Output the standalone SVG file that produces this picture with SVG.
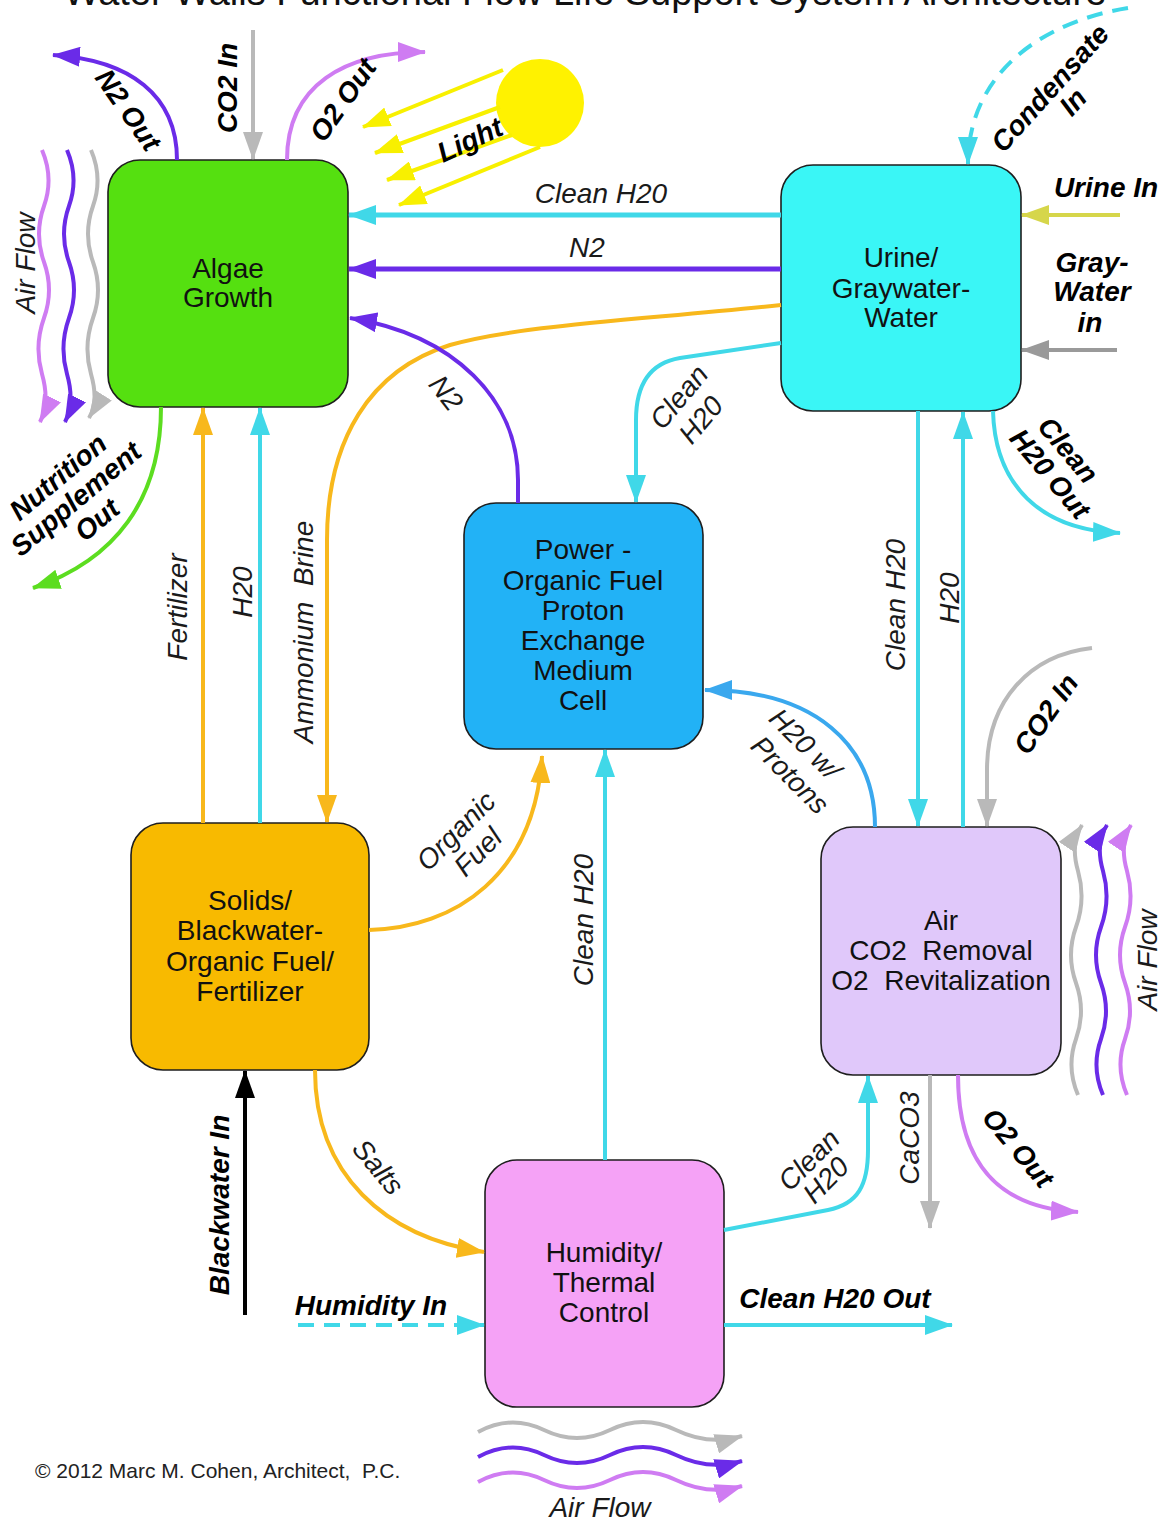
<svg xmlns="http://www.w3.org/2000/svg" width="1169" height="1524" viewBox="0 0 1169 1524">
<style>
text{font-family:"Liberation Sans",Arial,Helvetica,sans-serif}
.title{font-size:38px;fill:#111;text-anchor:middle}
.node rect{stroke:#1e1e1e;stroke-width:1.6}
.nt{font-size:28px;fill:#111;text-anchor:middle}
.lb{font-size:28px;font-style:italic;fill:#1a1a1a;text-anchor:middle}
.bl{font-size:28px;font-style:italic;font-weight:bold;fill:#000;text-anchor:middle}
.c{text-anchor:middle;dominant-baseline:central}
.cn path,.cn line{fill:none;stroke-width:5}
.cy{stroke:#40D8E8}
.pu{stroke:#6A2BE8}
.vi{stroke:#CF7CF2}
.gr{stroke:#B9B9B9}
.or{stroke:#F8B81C}
.gn{stroke:#5CDD20}
.ye{stroke:#F8F000}
.bk{stroke:#000}
.ol{stroke:#D6D64A}
.dg{stroke:#9A9A9A}
.bu{stroke:#3AA8EE}
.w{stroke-width:4 !important}
.dash{stroke-dasharray:16 10}
.copy{font-size:21px;fill:#222}
</style>
<defs>
<marker id="a-cy" viewBox="0 0 28 20" refX="27" refY="10" markerWidth="28" markerHeight="20" markerUnits="userSpaceOnUse" orient="auto"><path d="M0,0 L28,10 L0,20 z" fill="#40D8E8"/></marker>
<marker id="a-pu" viewBox="0 0 28 20" refX="27" refY="10" markerWidth="28" markerHeight="20" markerUnits="userSpaceOnUse" orient="auto"><path d="M0,0 L28,10 L0,20 z" fill="#6A2BE8"/></marker>
<marker id="a-vi" viewBox="0 0 28 20" refX="27" refY="10" markerWidth="28" markerHeight="20" markerUnits="userSpaceOnUse" orient="auto"><path d="M0,0 L28,10 L0,20 z" fill="#CF7CF2"/></marker>
<marker id="a-gr" viewBox="0 0 28 20" refX="27" refY="10" markerWidth="28" markerHeight="20" markerUnits="userSpaceOnUse" orient="auto"><path d="M0,0 L28,10 L0,20 z" fill="#B9B9B9"/></marker>
<marker id="a-or" viewBox="0 0 28 20" refX="27" refY="10" markerWidth="28" markerHeight="20" markerUnits="userSpaceOnUse" orient="auto"><path d="M0,0 L28,10 L0,20 z" fill="#F8B81C"/></marker>
<marker id="a-gn" viewBox="0 0 28 20" refX="27" refY="10" markerWidth="28" markerHeight="20" markerUnits="userSpaceOnUse" orient="auto"><path d="M0,0 L28,10 L0,20 z" fill="#5CDD20"/></marker>
<marker id="a-ye" viewBox="0 0 28 20" refX="27" refY="10" markerWidth="28" markerHeight="20" markerUnits="userSpaceOnUse" orient="auto"><path d="M0,0 L28,10 L0,20 z" fill="#F8F000"/></marker>
<marker id="a-bk" viewBox="0 0 28 20" refX="27" refY="10" markerWidth="28" markerHeight="20" markerUnits="userSpaceOnUse" orient="auto"><path d="M0,0 L28,10 L0,20 z" fill="#000"/></marker>
<marker id="a-ol" viewBox="0 0 28 20" refX="27" refY="10" markerWidth="28" markerHeight="20" markerUnits="userSpaceOnUse" orient="auto"><path d="M0,0 L28,10 L0,20 z" fill="#D6D64A"/></marker>
<marker id="a-dg" viewBox="0 0 28 20" refX="27" refY="10" markerWidth="28" markerHeight="20" markerUnits="userSpaceOnUse" orient="auto"><path d="M0,0 L28,10 L0,20 z" fill="#9A9A9A"/></marker>
<marker id="a-bu" viewBox="0 0 28 20" refX="27" refY="10" markerWidth="28" markerHeight="20" markerUnits="userSpaceOnUse" orient="auto"><path d="M0,0 L28,10 L0,20 z" fill="#3AA8EE"/></marker>
</defs>
<rect x="0" y="0" width="1169" height="1524" fill="#fff"/>
<text class="title" x="585" y="5">Water Walls Functional Flow Life Support System Architecture</text>

<g id="algae" class="node">
<rect x="108" y="160" width="240" height="247" rx="32" fill="#55E010"/>
<text class="nt" x="228" y="278">Algae</text>
<text class="nt" x="228" y="307">Growth</text>
</g>
<g id="urine" class="node">
<rect x="781" y="165" width="240" height="246" rx="32" fill="#3AF6F6"/>
<text class="nt" x="901" y="267">Urine/</text>
<text class="nt" x="901" y="298">Graywater-</text>
<text class="nt" x="901" y="327">Water</text>
</g>
<g id="power" class="node">
<rect x="464" y="503" width="239" height="246" rx="32" fill="#22B2F6"/>
<text class="nt" x="583" y="559">Power -</text>
<text class="nt" x="583" y="590">Organic Fuel</text>
<text class="nt" x="583" y="620">Proton</text>
<text class="nt" x="583" y="650">Exchange</text>
<text class="nt" x="583" y="680">Medium</text>
<text class="nt" x="583" y="710">Cell</text>
</g>
<g id="solids" class="node">
<rect x="131" y="823" width="238" height="247" rx="32" fill="#F8BA00"/>
<text class="nt" x="250" y="910">Solids/</text>
<text class="nt" x="250" y="940">Blackwater-</text>
<text class="nt" x="250" y="971">Organic Fuel/</text>
<text class="nt" x="250" y="1001">Fertilizer</text>
</g>
<g id="air" class="node">
<rect x="821" y="827" width="240" height="248" rx="32" fill="#E0C8FA"/>
<text class="nt" x="941" y="930">Air</text>
<text class="nt" x="941" y="960">CO2&#160; Removal</text>
<text class="nt" x="941" y="990">O2&#160; Revitalization</text>
</g>
<g id="humidity" class="node">
<rect x="485" y="1160" width="239" height="247" rx="32" fill="#F5A2F6"/>
<text class="nt" x="604" y="1262">Humidity/</text>
<text class="nt" x="604" y="1292">Thermal</text>
<text class="nt" x="604" y="1322">Control</text>
</g>

<g id="sun">
<circle cx="540" cy="103" r="44" fill="#FFF200"/>
</g>

<g id="connectors" class="cn">
<path class="cy" d="M781,215 L349,215" marker-end="url(#a-cy)"/>
<path class="pu" d="M781,269 L349,269" marker-end="url(#a-pu)"/>
<path class="or w" d="M781,305 C640,320 520,325 450,345 C370,370 327,440 327,540 L327,822" marker-end="url(#a-or)"/>
<path class="pu w" d="M518,503 L518,480 C518,400 455,335 350,318" marker-end="url(#a-pu)"/>
<path class="cy w" d="M781,343 L680,358 C650,363 636,385 636,420 L636,502" marker-end="url(#a-cy)"/>
<path class="or w" d="M203,823 L203,408" marker-end="url(#a-or)"/>
<path class="cy w" d="M260,823 L260,408" marker-end="url(#a-cy)"/>
<path class="gn w" d="M161,407 C161,500 115,560 33,588" marker-end="url(#a-gn)"/>
<path class="or w" d="M369,930 C455,928 535,875 542,756" marker-end="url(#a-or)"/>
<path class="cy w" d="M605,1160 L605,750" marker-end="url(#a-cy)"/>
<path class="bu w" d="M875,827 C875,745 815,690 705,690" marker-end="url(#a-bu)"/>
<path class="cy w" d="M918,411 L918,826" marker-end="url(#a-cy)"/>
<path class="cy w" d="M963,827 L963,412" marker-end="url(#a-cy)"/>
<path class="cy w" d="M993,411 C995,485 1040,530 1120,533" marker-end="url(#a-cy)"/>
<path class="gr w" d="M1092,648 C1030,655 987,700 987,770 L987,826" marker-end="url(#a-gr)"/>
<path class="gr w" d="M1078,1095 Q1066,1067 1076,1039 T1076,983 T1076,927 T1078,871 T1082,825" marker-end="url(#a-gr)"/>
<path class="pu w" d="M1103,1095 Q1091,1067 1101,1039 T1101,983 T1101,927 T1103,871 T1107,825" marker-end="url(#a-pu)"/>
<path class="vi w" d="M1127,1095 Q1115,1067 1125,1039 T1125,983 T1125,927 T1127,871 T1131,825" marker-end="url(#a-vi)"/>
<path class="gr w" d="M930,1075 L930,1228" marker-end="url(#a-gr)"/>
<path class="vi w" d="M958,1075 C958,1165 1000,1208 1078,1212" marker-end="url(#a-vi)"/>
<path class="cy w" d="M724,1230 L828,1210 C858,1204 868,1185 868,1150 L868,1076" marker-end="url(#a-cy)"/>
<path class="cy w" d="M724,1325 L952,1325" marker-end="url(#a-cy)"/>
<path class="or w" d="M315,1070 C315,1175 385,1237 484,1252" marker-end="url(#a-or)"/>
<path class="bk w" d="M245,1315 L245,1071" marker-end="url(#a-bk)"/>
<path class="cy w dash" d="M298,1325 L484,1325" marker-end="url(#a-cy)"/>
<path class="gr w" d="M478,1432 Q511,1414 544,1430 T610,1430 T676,1430 T742,1436" marker-end="url(#a-gr)"/>
<path class="pu w" d="M478,1457 Q511,1439 544,1455 T610,1455 T676,1455 T742,1461" marker-end="url(#a-pu)"/>
<path class="vi w" d="M478,1482 Q511,1464 544,1480 T610,1480 T676,1480 T742,1486" marker-end="url(#a-vi)"/>
<path class="pu w" d="M177,160 C177,95 130,60 53,55" marker-end="url(#a-pu)"/>
<path class="gr w" d="M253,30 L253,159" marker-end="url(#a-gr)"/>
<path class="vi w" d="M287,160 C287,85 345,52 425,52" marker-end="url(#a-vi)"/>
<path class="ye w" d="M503,70 L363,127" marker-end="url(#a-ye)"/>
<path class="ye w" d="M500,107 L375,153" marker-end="url(#a-ye)"/>
<path class="ye w" d="M512,135 L387,180" marker-end="url(#a-ye)"/>
<path class="ye w" d="M540,147 L399,205" marker-end="url(#a-ye)"/>
<path class="vi w" d="M42,150 Q54,178 44,206 T44,262 T44,318 T42,374 T40,422" marker-end="url(#a-vi)"/>
<path class="pu w" d="M67,150 Q79,178 69,206 T69,262 T69,318 T67,374 T65,422" marker-end="url(#a-pu)"/>
<path class="gr w" d="M91,150 Q103,178 93,206 T93,262 T93,318 T91,374 T89,418" marker-end="url(#a-gr)"/>
<path class="cy w dash" d="M1128,8 C1040,22 968,75 968,164" marker-end="url(#a-cy)"/>
<path class="ol w" d="M1120,215 L1022,215" marker-end="url(#a-ol)"/>
<path class="dg w" d="M1117,350 L1022,350" marker-end="url(#a-dg)"/>
</g>

<g id="labels">
<text class="lb" x="601" y="203">Clean H20</text>
<text class="lb" x="587" y="257">N2</text>
<text class="lb c" transform="translate(303,632) rotate(-90)">Ammonium&#160; Brine</text>
<text class="lb c" transform="translate(446,393) rotate(52)">N2</text>
<text class="lb c" transform="translate(679,397) rotate(-50)">Clean</text>
<text class="lb c" transform="translate(701,420) rotate(-50)">H20</text>
<text class="lb c" transform="translate(177,607) rotate(-90)">Fertilizer</text>
<text class="lb c" transform="translate(242,592) rotate(-90)">H20</text>
<text class="bl c" transform="translate(58,477) rotate(-40)">Nutrition</text>
<text class="bl c" transform="translate(76,499) rotate(-40)">Supplement</text>
<text class="bl c" transform="translate(97,520) rotate(-40)">Out</text>
<text class="lb c" transform="translate(456,831) rotate(-45)">Organic</text>
<text class="lb c" transform="translate(478,852) rotate(-45)">Fuel</text>
<text class="lb c" transform="translate(583,920) rotate(-90)">Clean H20</text>
<text class="lb c" transform="translate(805,744) rotate(45)">H20 w/</text>
<text class="lb c" transform="translate(790,775) rotate(45)">Protons</text>
<text class="lb c" transform="translate(895,605) rotate(-90)">Clean H20</text>
<text class="lb c" transform="translate(949,598) rotate(-90)">H20</text>
<text class="bl c" transform="translate(1068,450) rotate(50)">Clean</text>
<text class="bl c" transform="translate(1050,474) rotate(50)">H20 Out</text>
<text class="bl c" transform="translate(1046,714) rotate(-55)">CO2 In</text>
<text class="lb c" transform="translate(1147,960) rotate(-90)">Air Flow</text>
<text class="lb c" transform="translate(909,1138) rotate(-90)">CaCO3</text>
<text class="bl c" transform="translate(1018,1148) rotate(50)">O2 Out</text>
<text class="lb c" transform="translate(809,1160) rotate(-45)">Clean</text>
<text class="lb c" transform="translate(826,1180) rotate(-45)">H20</text>
<text class="bl" x="835" y="1308">Clean H20 Out</text>
<text class="lb c" transform="translate(378,1167) rotate(50)">Salts</text>
<text class="bl c" transform="translate(219,1205) rotate(-90)">Blackwater In</text>
<text class="bl" x="371" y="1315">Humidity In</text>
<text class="lb" x="600" y="1517">Air Flow</text>
<text class="bl c" transform="translate(128,110) rotate(55)">N2 Out</text>
<text class="bl c" transform="translate(227,88) rotate(-90)">CO2 In</text>
<text class="bl c" transform="translate(343,100) rotate(-55)">O2 Out</text>
<text class="bl c" transform="translate(470,140) rotate(-25)">Light</text>
<text class="lb c" transform="translate(25,263) rotate(-90)">Air Flow</text>
<text class="bl c" transform="translate(1050,88) rotate(-48)">Condensate</text>
<text class="bl c" transform="translate(1073,102) rotate(-48)">In</text>
<text class="bl" x="1106" y="197">Urine In</text>
<text class="bl" x="1092" y="272">Gray-</text>
<text class="bl" x="1092" y="301">Water</text>
<text class="bl" x="1090" y="332">in</text>
<text class="copy" x="35" y="1478">© 2012 Marc M. Cohen, Architect,&#160; P.C.</text>
</g>
</svg>
